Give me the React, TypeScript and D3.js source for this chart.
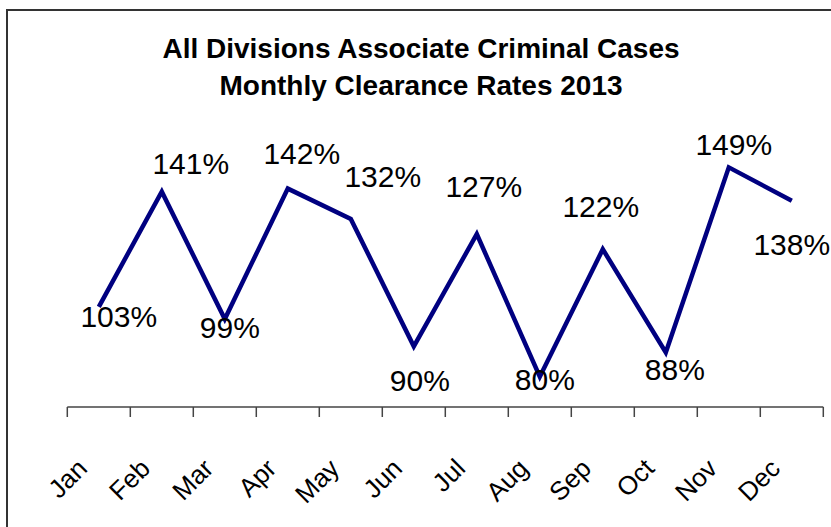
import React from "react";
import * as d3 from "d3";

const months = ["Jan","Feb","Mar","Apr","May","Jun","Jul","Aug","Sep","Oct","Nov","Dec"];
const rates = [103, 141, 99, 142, 132, 90, 127, 80, 122, 88, 149, 138];
const titleLines = ["All Divisions Associate Criminal Cases", "Monthly Clearance Rates 2013"];
// label offsets (layout only): [dx, dy] from point to label baseline centre
const labelOffsets: [number, number][] = [
  [20, 20], [29, -18], [5, 19], [14, -25], [32, -32], [6, 45],
  [7, -37], [5, 13], [-2, -32], [9, 28], [5, -12], [0, 54],
];

const W = 831, H = 527;
const FONT = "'Liberation Sans', Arial, Helvetica, sans-serif";

export default function App() {
  const x = d3.scaleBand<string>().domain(months).range([67.3, 823.3]).padding(0);
  const y = d3.scaleLinear().domain([70, 160]).range([407, 134]);
  const cx = (m: string) => (x(m) as number) + x.bandwidth() / 2;
  const line = d3.line<number>().x((_, i) => cx(months[i])).y((d) => y(d));
  const tickXs = [...months.map((m) => x(m) as number), 823.3];
  const axisY = y(70);

  return (
    <svg width={W} height={H} style={{ position: "absolute", left: 0, top: 0, background: "#fff" }}>
      <rect x={7} y={10} width={W + 20} height={H + 20} fill="#fff" stroke="#333" strokeWidth={2} />
      <text x={421} y={58} textAnchor="middle" fontFamily={FONT} fontWeight="bold" fontSize={28} fill="#000">
        {titleLines[0]}
      </text>
      <text x={421} y={95} textAnchor="middle" fontFamily={FONT} fontWeight="bold" fontSize={28} fill="#000">
        {titleLines[1]}
      </text>
      <line x1={67.3} x2={823.3} y1={axisY} y2={axisY} stroke="#444" strokeWidth={1.5} />
      {tickXs.map((t, i) => (
        <line key={i} x1={t} x2={t} y1={axisY} y2={axisY + 10} stroke="#444" strokeWidth={1.5} />
      ))}
      {months.map((m) => (
        <text key={m} transform={`translate(${cx(m) - 10},470) rotate(-45)`} textAnchor="end"
          fontFamily={FONT} fontSize={26} fill="#000">{m}</text>
      ))}
      <path d={line(rates) || ""} fill="none" stroke="#000080" strokeWidth={4.5} strokeLinejoin="miter" />
      {rates.map((v, i) => (
        <text key={i} x={cx(months[i]) + labelOffsets[i][0]} y={y(v) + labelOffsets[i][1]}
          textAnchor="middle" fontFamily={FONT} fontSize={30} fill="#000">{v}%</text>
      ))}
    </svg>
  );
}
